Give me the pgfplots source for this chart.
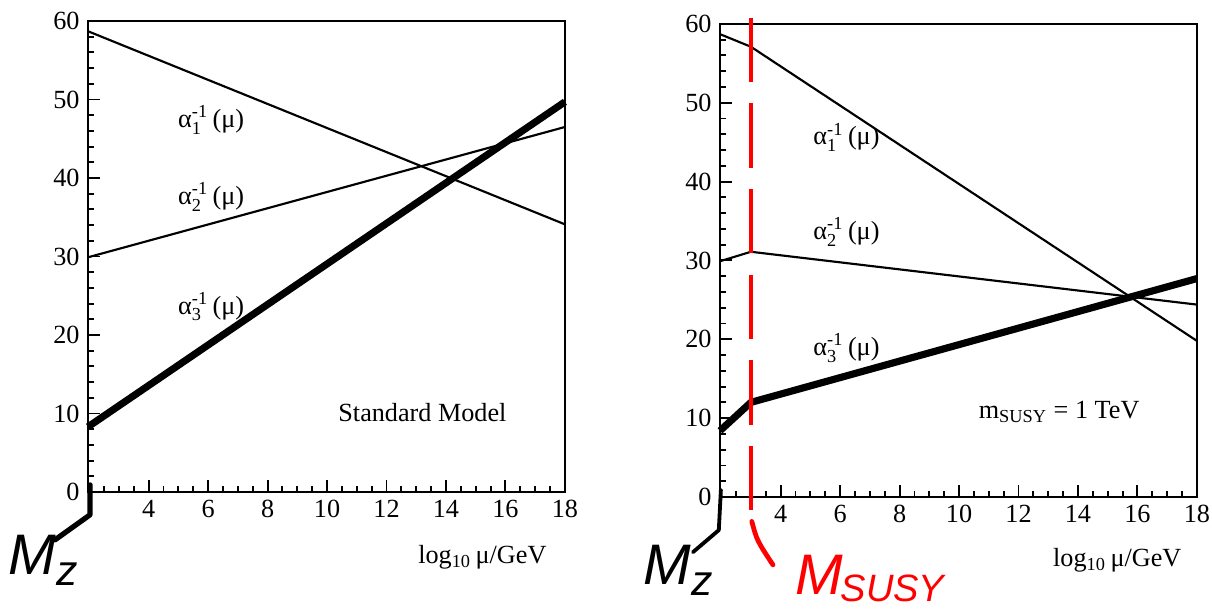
\documentclass[border=0pt]{standalone}
\usepackage{fontspec}
\setmainfont{Liberation Serif}
\setsansfont{Liberation Sans}
\usepackage{amsmath}
\usepackage{pgfplots}
\pgfplotsset{compat=1.18}

% alpha_i^{-1}(mu) label
\newcommand{\ainv}[1]{$\text{α}_{\text{#1}}^{\text{-1}}$\,(μ)}
\newcommand{\hand}{\sffamily\itshape}
\newcommand{\lblfont}{\rmfamily\fontsize{11}{13}\selectfont}

\pgfplotsset{
  gut/.style={
    scale only axis,
    width=200.3pt,
    xmin=1.96, xmax=18,
    ymin=0, ymax=60,
    xtick={4,6,...,18},
    ytick={0,10,...,60},
    minor xtick={2.5,3,...,17.5},
    minor ytick={2,4,...,58},
    tick pos=left,
    major tick length=5pt,
    minor tick length=2.5pt,
    every tick/.style={black, line width=0.8pt},
    axis line style={line width=1.1pt},
    clip=false,
    /pgf/number format/assume math mode=true,
    tick label style={font=\lblfont},
    label style={font=\lblfont},
  },
  coupl/.style={black, line width=0.9pt, no markers},
  strong/.style={black, line width=3pt, no markers, line join=round},
}

\begin{document}
\begin{tikzpicture}
\useasboundingbox (-36.96pt,-49.56pt) rectangle (472.08pt,206.64pt);

% ---- Standard Model ----
\begin{axis}[gut, height=197.8pt,
    xlabel={log$_{\text{10}}$\,μ/GeV},
    xlabel style={at={(axis description cs:0.675,-0.138)}, anchor=west},
]
\addplot[coupl] coordinates {(1.96,58.7) (18,34.1)};
\addplot[coupl] coordinates {(1.96,29.9) (18,46.5)};
\addplot[strong] coordinates {(1.96,8.3) (18,49.7)};

\node[anchor=west, font=\lblfont] at (axis cs:4.71,47.4) {\ainv{1}};
\node[anchor=west, font=\lblfont] at (axis cs:4.71,37.6) {\ainv{2}};
\node[anchor=west, font=\lblfont] at (axis cs:4.71,23.6) {\ainv{3}};
\node[anchor=west, font=\lblfont] at (axis cs:10.1,10.1) {Standard Model};

% handwritten M_Z
\draw[black, line width=2.2pt, line cap=round, line join=round]
  (axis cs:2.03,0.9) -- (axis cs:2.03,-2.9) -- (axis cs:0.85,-6.1);
\node[anchor=west, inner sep=0pt, font={\hand\fontsize{24}{28}\selectfont}]
  at (axis cs:-0.72,-8.7) {M\raisebox{-0.35ex}{\fontsize{18}{20}\selectfont z}};
\end{axis}

% ---- SUSY ----
\begin{axis}[gut, height=198.7pt, at={(265.44pt,-2.1pt)},
    xlabel={log$_{\text{10}}$\,μ/GeV},
    xlabel style={at={(axis description cs:0.681,-0.133)}, anchor=west},
]
\addplot[coupl] coordinates {(1.96,58.7) (3,57.1) (18,19.8)};
\addplot[coupl] coordinates {(1.96,29.9) (3,31.1) (18,24.4)};
\addplot[strong] coordinates {(1.96,8.4) (3,12.0) (18,27.7)};

\node[anchor=west, font=\lblfont] at (axis cs:4.82,45.6) {\ainv{1}};
\node[anchor=west, font=\lblfont] at (axis cs:4.82,33.6) {\ainv{2}};
\node[anchor=west, font=\lblfont] at (axis cs:4.82,18.9) {\ainv{3}};
\node[anchor=west, font=\lblfont] at (axis cs:10.38,10.8)
  {m$_{\text{SUSY}}$ = 1 TeV};

% M_SUSY marker
\draw[red, line width=1.8pt, dash pattern=on 27pt off 9pt]
  (axis cs:3.0,60.8) -- (axis cs:3.0,-2.5);
\draw[red, line width=2pt, line cap=round]
  (axis cs:3.03,-3.1) .. controls (axis cs:3.2,-5.5) .. (axis cs:3.74,-8.6);
\node[anchor=west, inner sep=0pt, text=red, font={\hand\fontsize{24}{28}\selectfont}]
  at (axis cs:4.49,-9.9) {M};
\node[anchor=west, inner sep=0pt, text=red, font={\hand\fontsize{16}{18}\selectfont}]
  at (axis cs:6.0,-11.6) {SUSY};

% handwritten M_Z
\draw[black, line width=1.6pt, line cap=round, line join=round]
  (axis cs:1.99,0.9) -- (axis cs:1.92,-4.2) -- (axis cs:1.05,-7);
\node[anchor=west, inner sep=0pt, font={\hand\fontsize{24}{28}\selectfont}]
  at (axis cs:-0.63,-9.3) {M\raisebox{-0.35ex}{\fontsize{18}{20}\selectfont z}};
\end{axis}
\end{tikzpicture}
\end{document}
